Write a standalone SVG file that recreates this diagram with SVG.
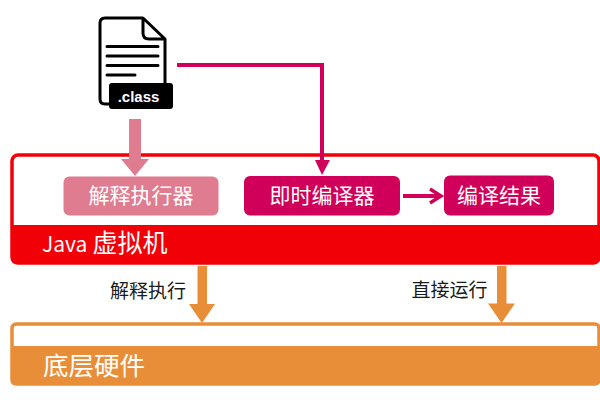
<svg xmlns="http://www.w3.org/2000/svg" width="600" height="400" viewBox="0 0 600 400">
  <style>
    text { font-family: "Noto Sans CJK SC", "Liberation Sans", sans-serif; }
    .light { fill: #fff; }
    .dark { fill: #1a1a1a; }
    .doc { fill: none; stroke: #000; stroke-width: 3; stroke-linejoin: round; }
    .docline { stroke: #000; stroke-width: 3; stroke-linecap: round; }
    .wire { fill: none; stroke: #d0005a; stroke-width: 4; }
  </style>
  <rect width="600" height="400" fill="#fff"/>

  <g id="class-file">
    <path class="doc" d="M143 18H105Q100 18 100 23V99Q100 104 105 104H112M165 96V39L143 18V33Q143 39 149 39H165"/>
    <path class="docline" d="M107 46.500H158M107 56H158M107 65.500H158M107 75H135"/>
    <rect x="109" y="83" width="64" height="26" rx="3" fill="#000"/>
    <text x="138.500" y="102" font-size="15" font-weight="700" text-anchor="middle" class="light" style="font-family:'Liberation Sans',sans-serif">.class</text>
  </g>

  <g id="jvm">
    <rect x="12" y="155" width="587" height="108" rx="6" fill="#fff" stroke="#f20008" stroke-width="3.500"/>
    <path d="M11 225H600V258Q600 264 594 264H17Q11 264 11 258Z" fill="#f20008"/>
    <text x="42" y="252" font-size="21" class="light">Java<tspan x="92.500" font-size="25">虚拟机</tspan></text>
  </g>

  <g id="interpreter">
    <rect x="63.500" y="176.500" width="155" height="39" rx="6" fill="#e07c90"/>
    <text x="141" y="203" font-size="21" text-anchor="middle" class="light">解释执行器</text>
  </g>

  <g id="jit-compiler">
    <rect x="244" y="176" width="156" height="39.500" rx="6" fill="#d0005a"/>
    <text x="322" y="203" font-size="21" text-anchor="middle" class="light">即时编译器</text>
  </g>

  <g id="compile-result">
    <rect x="444" y="175.500" width="110" height="40" rx="6" fill="#d0005a"/>
    <text x="499" y="203" font-size="21" text-anchor="middle" class="light">编译结果</text>
  </g>

  <g id="hardware">
    <rect x="12" y="324" width="587" height="60" rx="4" fill="#fff" stroke="#e98e38" stroke-width="3.500"/>
    <path d="M11 346H600V381Q600 385 596 385H15Q11 385 11 381Z" fill="#e98e38"/>
    <text x="43" y="375" font-size="25.500" class="light">底层硬件</text>
  </g>

  <g id="connectors">
    <path d="M129 119H141V159H149L135 176L121 159H129Z" fill="#e07c90"/>
    <path class="wire" d="M177 65H322V160"/>
    <path d="M315 160H330L322 175Z" fill="#d0005a"/>
    <path class="wire" d="M403 196H441"/>
    <path d="M430 189L441 196L430 203" fill="none" stroke="#d0005a" stroke-width="3.500"/>
    <path d="M197.500 266H207V304H215L202 323L189 304H197.500Z" fill="#e98e38"/>
    <path d="M497 266H506.500V303.500H515L501.500 323L488 303.500H497Z" fill="#e98e38"/>
  </g>

  <g id="edge-labels">
    <text x="148" y="298" font-size="19" text-anchor="middle" class="dark">解释执行</text>
    <text x="449.500" y="297" font-size="19" text-anchor="middle" class="dark">直接运行</text>
  </g>
</svg>
